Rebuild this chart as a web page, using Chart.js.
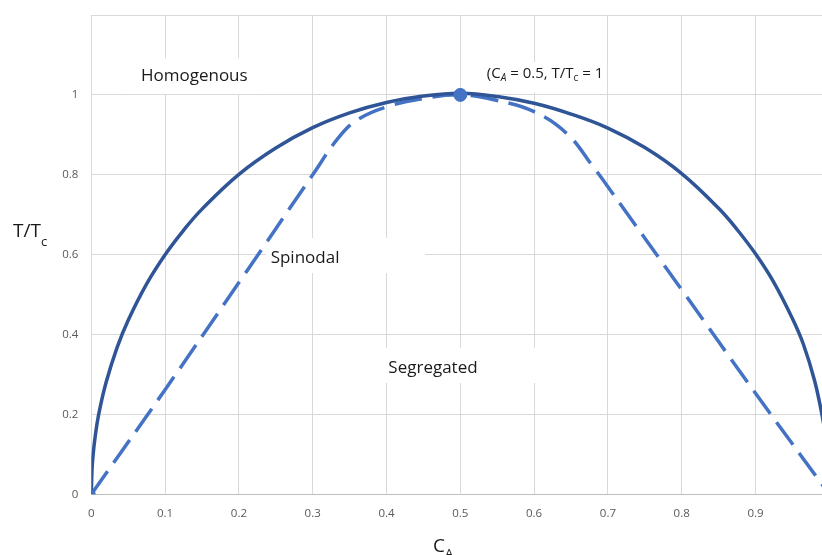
<!DOCTYPE html>
<html>
<head>
<meta charset="utf-8">
<script src="https://cdn.jsdelivr.net/npm/chart.js@4.4.1/dist/chart.umd.min.js"></script>
<style>
  html, body { margin: 0; padding: 0; background: #fff; overflow: hidden; }
  #wrap { width: 860px; height: 555px; }
</style>
</head>
<body>
<div id="wrap"><canvas id="canvas" width="860" height="555"></canvas></div>
<script>
// binodal (solid line)
var binodalX = [0, 0.001, 0.0025, 0.005, 0.01, 0.02, 0.035, 0.05, 0.075, 0.1, 0.125, 0.15, 0.2, 0.25, 0.3, 0.35, 0.4, 0.45, 0.5,
                0.55, 0.6, 0.65, 0.7, 0.75, 0.8, 0.85, 0.875, 0.9, 0.925, 0.95, 0.965, 0.98, 0.99, 0.995, 0.9985, 1];
var binodalY = [0, 0.063, 0.1, 0.141, 0.2, 0.28, 0.368, 0.436, 0.527, 0.6, 0.661, 0.714, 0.801, 0.867, 0.918, 0.955, 0.981, 0.997, 1.004,
                0.996, 0.979, 0.952, 0.917, 0.868, 0.803, 0.716, 0.663, 0.602, 0.53, 0.44, 0.375, 0.285, 0.2, 0.145, 0.08, 0];

// spinodal (dashed line)
var spinodalX = [0, 0.1, 0.2, 0.3, 0.335, 0.36, 0.4, 0.45, 0.5, 0.55, 0.6, 0.645, 0.68, 0.7, 0.8, 0.9, 1];
var spinodalY = [0, 0.262, 0.53, 0.8, 0.893, 0.937, 0.97, 0.991, 1, 0.986, 0.958, 0.902, 0.82, 0.77, 0.512, 0.253, 0];

// critical point and origin marker
var criticalX = [0.5], criticalY = [1];
var originX = [0], originY = [0];

// ticks
var xTickValues = [0, 0.1, 0.2, 0.3, 0.4, 0.5, 0.6, 0.7, 0.8, 0.9, 1];
var xTickLabels = ["0", "0.1", "0.2", "0.3", "0.4", "0.5", "0.6", "0.7", "0.8", "0.9", ""];
var yTickValues = [0, 0.2, 0.4, 0.6, 0.8, 1, 1.2];
var yTickLabels = ["0", "0.2", "0.4", "0.6", "0.8", "1", ""];

var FONT = '"Open Sans", sans-serif';

function toPoints(xs, ys) {
    return xs.map((x, i) => ({ x: x, y: ys[i] }));
}

// text boxes on the plot (data coords): text start, baseline, white box behind
var notes = [
    { parts: [{ t: "Homogenous" }], size: 17, x: 0.0673, y: 1.035, box: [0.046, 0.2286, 1.092, 1.002] },
    { parts: [{ t: "Spinodal" }], size: 17, x: 0.243, y: 0.58, box: [0.2367, 0.4521, 0.6417, 0.554] },
    { parts: [{ t: "Segregated" }], size: 17, x: 0.4025, y: 0.3045, box: [0.3966, 0.608, 0.3667, 0.2787] },
    {
        parts: [{ t: "(C" }, { t: "A", sub: 1, italic: 1, dy: 3 }, { t: " = 0.5, T/T" }, { t: "c", sub: 1, dy: 3 }, { t: " = 1" }],
        size: 15, x: 0.536, y: 1.0415, box: [0.5267, 0.6962, 1.0824, 1.0067]
    }
];

function drawRich(ctx, parts, x, y, size) {
    parts.forEach(p => {
        var fs = p.sub ? Math.round(size * 0.68) : size;
        ctx.font = (p.italic ? "italic " : "") + fs + "px " + FONT;
        ctx.fillText(p.t, x, y + (p.dy || 0));
        x += ctx.measureText(p.t).width;
    });
}

var notesPlugin = {
    id: "notes",
    beforeDatasetsDraw(chart) {
        var ctx = chart.ctx, sx = chart.scales.x, sy = chart.scales.y;
        ctx.save();
        ctx.fillStyle = "#fff";
        notes.forEach(n => {
            var x0 = sx.getPixelForValue(n.box[0]), x1 = sx.getPixelForValue(n.box[1]);
            var y0 = sy.getPixelForValue(n.box[2]), y1 = sy.getPixelForValue(n.box[3]);
            ctx.fillRect(x0, y0, x1 - x0, y1 - y0);
        });
        ctx.restore();
    },
    afterDatasetsDraw(chart) {
        var ctx = chart.ctx, sx = chart.scales.x, sy = chart.scales.y;
        ctx.save();
        ctx.fillStyle = "#1a1a1a";
        ctx.textBaseline = "alphabetic";
        ctx.textAlign = "left";
        notes.forEach(n => {
            drawRich(ctx, n.parts, sx.getPixelForValue(n.x), sy.getPixelForValue(n.y), n.size);
        });
        // axis titles
        drawRich(ctx, [{ t: "T/T" }, { t: "c", sub: 1, dy: 9 }], 13, 237, 19);
        drawRich(ctx, [{ t: "C" }, { t: "A", sub: 1, dy: 6 }], 433, 552, 19);
        ctx.restore();
    }
};

const canvas = document.getElementById("canvas").getContext("2d");
const chart = new Chart(canvas, {
    type: "scatter",
    data: {
        datasets: [
            {
                label: "Critical point",
                data: toPoints(criticalX, criticalY),
                pointRadius: 6.5,
                backgroundColor: "#4472C4",
                borderColor: "#4472C4",
                showLine: false
            },
            {
                label: "Origin",
                data: toPoints(originX, originY),
                pointRadius: 4,
                backgroundColor: "#4472C4",
                borderColor: "#4472C4",
                showLine: false
            },
            {
                label: "Binodal",
                data: toPoints(binodalX, binodalY),
                showLine: true,
                borderColor: "#2F5597",
                borderWidth: 3.5,
                pointRadius: 0,
                tension: 0.4
            },
            {
                label: "Spinodal",
                data: toPoints(spinodalX, spinodalY),
                showLine: true,
                borderColor: "#4472C4",
                borderWidth: 3.5,
                borderDash: [28, 10.5],
                pointRadius: 0,
                tension: 0.4
            }
        ]
    },
    options: {
        responsive: false,
        animation: false,
        layout: { padding: { top: 15, right: 30.7, left: 0, bottom: 0 } },
        plugins: { legend: { display: false }, tooltip: { enabled: false } },
        scales: {
            x: {
                type: "linear",
                min: 0,
                max: 1,
                afterBuildTicks: s => { s.ticks = xTickValues.map(v => ({ value: v })); },
                afterFit: s => { s.height = 60.7; s.paddingLeft = 0; s.paddingRight = 0; },
                grid: { color: "#d9d9d9", drawTicks: false },
                border: { color: "#bfbfbf" },
                ticks: {
                    padding: 13,
                    color: "#595959",
                    font: { family: FONT, size: 11.5 },
                    maxRotation: 0,
                    autoSkip: false,
                    callback: (v, i) => xTickLabels[i]
                }
            },
            y: {
                type: "linear",
                min: 0,
                max: 1.2,
                afterBuildTicks: s => { s.ticks = yTickValues.map(v => ({ value: v })); },
                afterFit: s => { s.width = 91.3; s.paddingTop = 0; s.paddingBottom = 0; },
                grid: { color: "#d9d9d9", drawTicks: false },
                border: { color: "#d9d9d9" },
                ticks: {
                    padding: 13,
                    color: "#595959",
                    font: { family: FONT, size: 11.5 },
                    autoSkip: false,
                    callback: (v, i) => yTickLabels[i]
                }
            }
        }
    },
    plugins: [notesPlugin]
});
</script>
</body>
</html>
